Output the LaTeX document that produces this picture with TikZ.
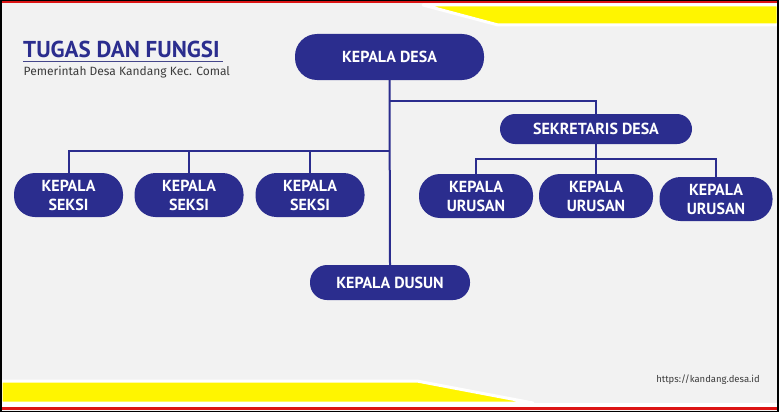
\documentclass[tikz,border=0pt]{standalone}
\usepackage{fontspec}
\setmainfont{PT Sans}
\newfontfamily\subfont{Fira Sans}
\definecolor{navy}{RGB}{43,45,142}
\definecolor{bggray}{RGB}{242,242,242}
\definecolor{ylw}{RGB}{255,245,0}
\definecolor{redl}{RGB}{220,20,20}
\definecolor{txtgray}{RGB}{60,60,60}
\begin{document}
\begin{tikzpicture}[x=1pt,y=-1pt,
  pill/.style={fill=navy,text=white,font=\bfseries\fontsize{16}{19}\selectfont,align=center,inner sep=0pt,rounded corners=#1},
  pill/.default=21pt,
  conn/.style={draw=navy,line width=2pt}]
\useasboundingbox (0,0) rectangle (781,412);
% background
\fill[white] (0,0) rectangle (781,412);
\fill[bggray] (1,1) rectangle (778,411);
% top band
\fill[redl] (1,1) rectangle (778,3.5);
\filldraw[fill=ylw,draw=white,line width=3pt,line join=round] (423,5) -- (778,5) -- (778,25) -- (498,25) -- cycle;
% bottom band
\filldraw[fill=ylw,draw=white,line width=3pt,line join=round] (1,381) -- (417,381) -- (533,403) -- (1,403) -- cycle;
\fill[white] (1,403) rectangle (778,407);
\fill[redl] (1,407) rectangle (778,410);
\draw[black,line width=1.2pt] (1,0.6) rectangle (778,411.4);
% title
\node[anchor=base west,inner sep=0pt,text=navy,font=\bfseries\fontsize{23}{26}\selectfont] (title) at (23,58) {TUGAS DAN FUNGSI};
\draw[navy!70!gray,line width=0.8pt] (23,61.5) -- (223,61.5);
\node[anchor=base west,inner sep=0pt,text=txtgray,font=\subfont\fontsize{12}{14}\selectfont] (sub) at (23.5,75) {Pemerintah Desa Kandang Kec. Comal};
\node[anchor=base east,inner sep=0pt,text=txtgray,font=\subfont\fontsize{9.5}{11}\selectfont] (url) at (760,382) {https://kandang.desa.id};
% nodes
\node[pill=22pt, minimum width=189pt, minimum height=46pt] (kd) at (389.5,57) {KEPALA DESA};
\node[pill=15pt, minimum width=192pt, minimum height=30pt] (sek) at (596,129) {SEKRETARIS DESA};
\node[pill=17pt, minimum width=160pt, minimum height=35pt] (dusun) at (390,282.5) {KEPALA DUSUN};
\node[pill, minimum width=109pt, minimum height=44pt] (s1) at (68.5,195) {KEPALA\\SEKSI};
\node[pill, minimum width=109pt, minimum height=44pt] (s2) at (189,195) {KEPALA\\SEKSI};
\node[pill, minimum width=109pt, minimum height=44pt] (s3) at (310,195) {KEPALA\\SEKSI};
\node[pill, minimum width=114pt, minimum height=44pt] (u1) at (476,196) {KEPALA\\URUSAN};
\node[pill, minimum width=114pt, minimum height=44pt] (u2) at (596,196) {KEPALA\\URUSAN};
\node[pill, minimum width=113pt, minimum height=44pt] (u3) at (716,199) {KEPALA\\URUSAN};
% junctions
\coordinate (jr) at (390,101);
\coordinate (jl) at (390,151);
\coordinate (ju) at (596,159);
% connectors
\draw[conn] (kd.south) -- (dusun.north);
\draw[conn] (jr) -| (sek.north);
\draw[conn] (s1.north) |- (jl);
\draw[conn] (s2.north) -- (s2.north |- jl);
\draw[conn] (s3.north) -- (s3.north |- jl);
\draw[conn] (sek.south) -- (ju);
\draw[conn] (u1.north) |- (ju) -| (u3.north);
\draw[conn] (u2.north) -- (u2.north |- ju);
\end{tikzpicture}
\end{document}
